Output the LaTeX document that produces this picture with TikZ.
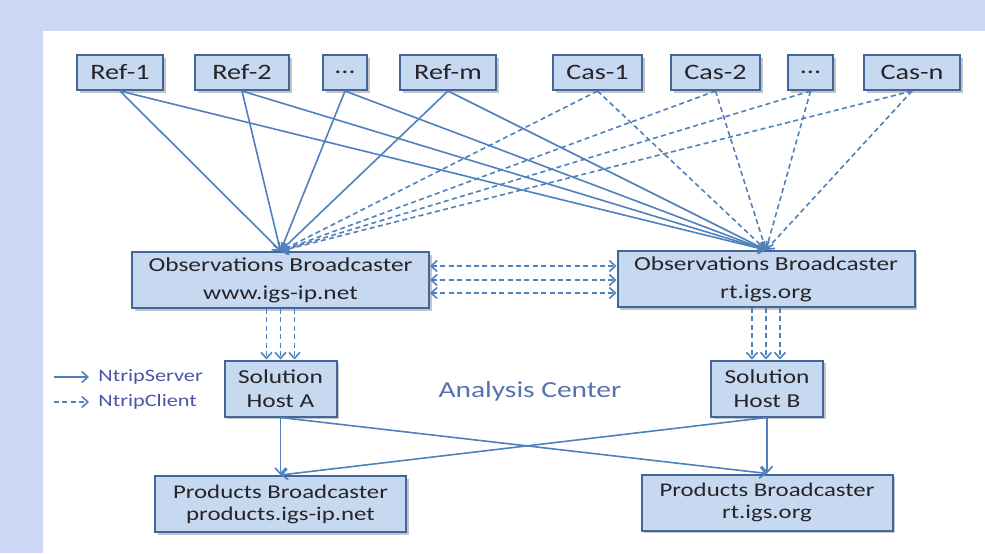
\documentclass[tikz,border=0pt]{standalone}
\usepackage{fontspec}
\setmainfont{Carlito}[FakeStretch=1.28]
\usepackage{tikz}
\usetikzlibrary{shapes,positioning,shadows,arrows.meta}
\usepackage{xcolor}
\definecolor{bglav}{RGB}{205,215,246}
\definecolor{boxfill}{RGB}{198,217,241}
\definecolor{boxedge}{RGB}{66,102,152}
\definecolor{linkblue}{RGB}{79,129,189}
\definecolor{boxtext}{RGB}{38,36,40}
\definecolor{centertext}{RGB}{85,115,175}
\definecolor{keytext}{RGB}{75,85,165}
\tikzset{
  box/.style={draw=boxedge,line width=1pt,fill=boxfill,text=boxtext,inner sep=0pt,align=center,
    drop shadow={opacity=0.45,shadow xshift=1.3pt,shadow yshift=-1.3pt}},
  topbox/.style={box,minimum height=17.5pt,font=\fontsize{11}{12}\selectfont},
  obsbox/.style={box,minimum width=148.5pt,minimum height=28pt,font=\fontsize{9.9}{14}\selectfont},
  hostbox/.style={box,minimum width=56pt,minimum height=28pt,font=\fontsize{9.9}{12}\selectfont},
  prodbox/.style={box,minimum width=125.5pt,minimum height=28pt,font=\fontsize{9.7}{11}\selectfont},
  barb/.tip={Straight Barb[length=3pt,width=5.5pt]},
  srv/.style={draw=linkblue,line width=0.8pt,-barb},
  cli/.style={srv,dash pattern=on 2.5pt off 1.7pt},
  cliboth/.style={cli,barb-barb},
  keylabel/.style={anchor=west,inner sep=0pt,text=keytext,font=\fontsize{8.7}{10}\selectfont}
}
\begin{document}
\begin{tikzpicture}[x=0.5pt,y=-0.5pt]
\fill[bglav] (0,0) rectangle (985,553);
\fill[white] (43,31) rectangle (985,553);
\useasboundingbox (0,0) rectangle (985,553);

\node[topbox,minimum width=43pt] (ref1) at (120,72.5) {Ref-1};
\node[topbox,minimum width=47pt] (ref2) at (242,72.5) {Ref-2};
\node[topbox,minimum width=22pt] (refdots) at (345,72.5) {...};
\node[topbox,minimum width=48pt] (refm) at (448,72.5) {Ref-m};
\node[topbox,minimum width=44.5pt] (cas1) at (597.5,72.5) {Cas-1};
\node[topbox,minimum width=44.5pt] (cas2) at (715.5,72.5) {Cas-2};
\node[topbox,minimum width=22.5pt] (casdots) at (810.5,72.5) {...};
\node[topbox,minimum width=48pt] (casn) at (912,72.5) {Cas-n};

\node[obsbox] (obsa) at (280.5,280) {Observations Broadcaster\\www.igs-ip.net};
\node[obsbox] (obsb) at (766,279) {Observations Broadcaster\\rt.igs.org};
\node[hostbox] (hosta) at (280.5,388.5) {Solution\\Host A};
\node[hostbox] (hostb) at (767,388.5) {Solution\\Host B};
\node[prodbox] (proda) at (280.5,504) {Products Broadcaster\\products.igs-ip.net};
\node[prodbox] (prodb) at (767,502.5) {Products Broadcaster\\rt.igs.org};
\node[text=centertext,font=\fontsize{11.5}{13}\selectfont] (center) at (530,391) {Analysis Center};

\draw[srv] (ref1.south)--(obsa.north); \draw[srv] (ref1.south)--(obsb.north);
\draw[srv] (ref2.south)--(obsa.north); \draw[srv] (ref2.south)--(obsb.north);
\draw[srv] (refdots.south)--(obsa.north); \draw[srv] (refdots.south)--(obsb.north);
\draw[srv] (refm.south)--(obsa.north); \draw[srv] (refm.south)--(obsb.north);
\draw[cli] (cas1.south)--(obsa.north); \draw[cli] (cas1.south)--(obsb.north);
\draw[cli] (cas2.south)--(obsa.north); \draw[cli] (cas2.south)--(obsb.north);
\draw[cli] (casdots.south)--(obsa.north); \draw[cli] (casdots.south)--(obsb.north);
\draw[cli] (casn.south)--(obsa.north); \draw[cli] (casn.south)--(obsb.north);

\draw[cliboth] ([yshift=7pt]obsa.east)--([yshift=7pt]obsa.east -| obsb.west);
\draw[cliboth] (obsa.east)--(obsa.east -| obsb.west);
\draw[cliboth] ([yshift=-6.5pt]obsa.east)--([yshift=-6.5pt]obsa.east -| obsb.west);

\draw[cli] ([xshift=-7pt]obsa.south)--([xshift=-7pt]hosta.north);
\draw[cli] (obsa.south)--(hosta.north);
\draw[cli] ([xshift=7pt]obsa.south)--([xshift=7pt]hosta.north);
\draw[cli] ([xshift=-7pt]obsb.south)--([xshift=-7pt]obsb.south |- hostb.north);
\draw[cli] (obsb.south)--(obsb.south |- hostb.north);
\draw[cli] ([xshift=7pt]obsb.south)--([xshift=7pt]obsb.south |- hostb.north);

\draw[srv] (hosta.south)--(proda.north); \draw[srv] (hosta.south)--(prodb.north);
\draw[srv] (hostb.south)--(proda.north); \draw[srv] (hostb.south)--(prodb.north);

\coordinate (keysa) at (54,377); \coordinate (keysb) at (89,377);
\coordinate (keyca) at (54,402); \coordinate (keycb) at (89,402);
\draw[srv] (keysa)--(keysb);
\draw[cli] (keyca)--(keycb);
\node[keylabel] (keyserver) at (98,377) {NtripServer};
\node[keylabel] (keyclient) at (98,402) {NtripClient};
\end{tikzpicture}
\end{document}
